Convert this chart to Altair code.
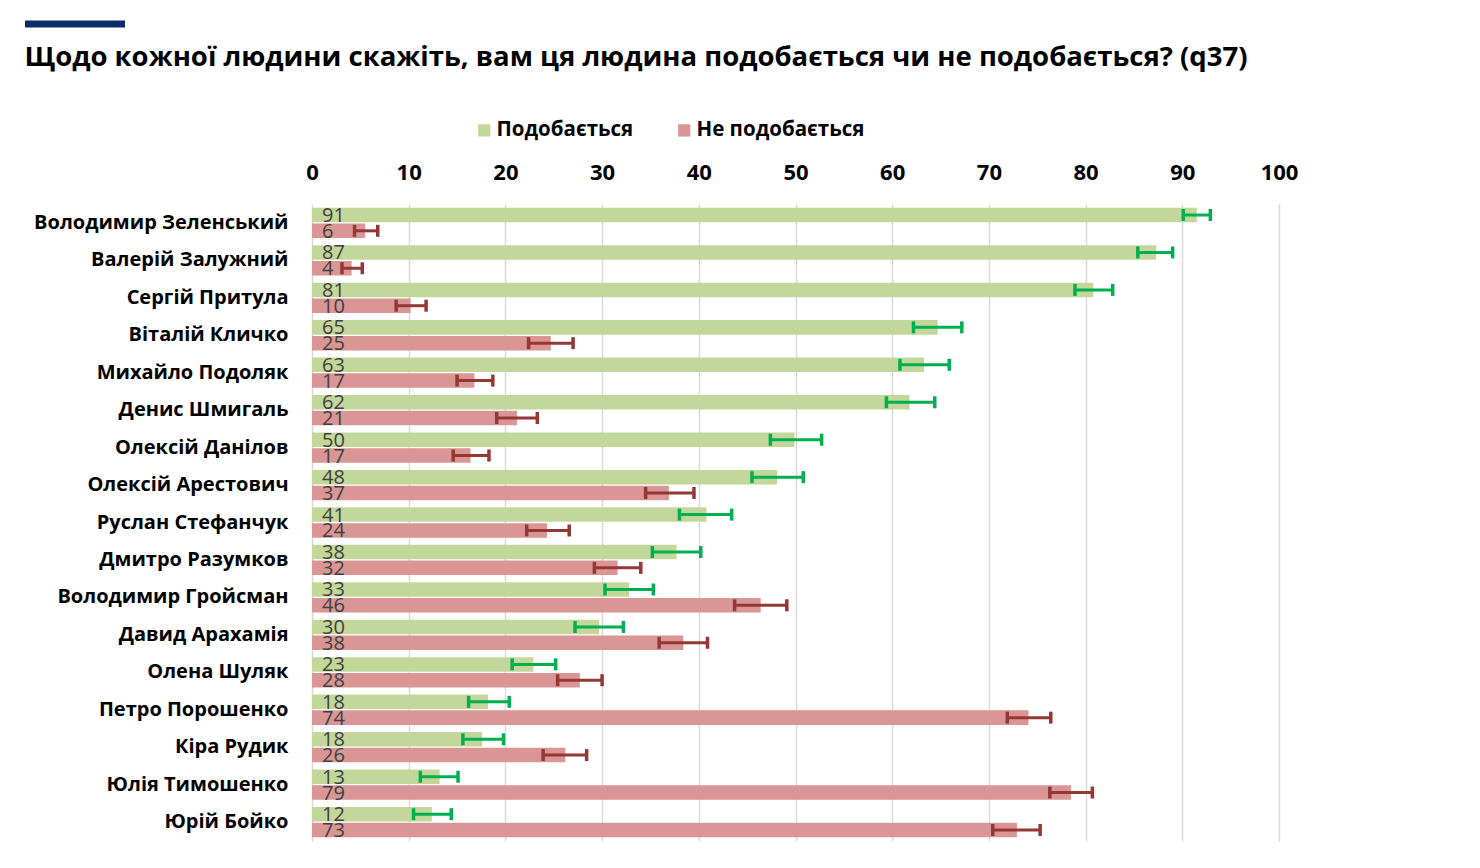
import altair as alt
import pandas as pd

names = ["Володимир Зеленський", "Валерій Залужний", "Сергій Притула", "Віталій Кличко",
         "Михайло Подоляк", "Денис Шмигаль", "Олексій Данілов", "Олексій Арестович",
         "Руслан Стефанчук", "Дмитро Разумков", "Володимир Гройсман", "Давид Арахамія",
         "Олена Шуляк", "Петро Порошенко", "Кіра Рудик", "Юлія Тимошенко", "Юрій Бойко"]

like = [91.5, 87.3, 80.8, 64.7, 63.3, 61.8, 49.9, 48.1, 40.8, 37.7, 32.8, 29.7, 22.9, 18.2, 17.6, 13.2, 12.4]
like_lo = [90.1, 85.4, 78.9, 62.2, 60.8, 59.4, 47.4, 45.5, 38.0, 35.2, 30.3, 27.2, 20.7, 16.2, 15.6, 11.2, 10.5]
like_hi = [92.9, 89.0, 82.8, 67.2, 65.9, 64.4, 52.7, 50.8, 43.4, 40.2, 35.3, 32.2, 25.2, 20.4, 19.8, 15.1, 14.4]
like_lbl = [91, 87, 81, 65, 63, 62, 50, 48, 41, 38, 33, 30, 23, 18, 18, 13, 12]

dislike = [5.5, 4.1, 10.2, 24.7, 16.8, 21.2, 16.4, 36.9, 24.3, 31.6, 46.4, 38.4, 27.7, 74.1, 26.2, 78.5, 72.9]
dislike_lo = [4.4, 3.1, 8.7, 22.4, 15.0, 19.1, 14.6, 34.5, 22.2, 29.2, 43.7, 35.9, 25.4, 71.9, 23.9, 76.3, 70.4]
dislike_hi = [6.8, 5.2, 11.8, 27.0, 18.7, 23.3, 18.3, 39.5, 26.6, 34.0, 49.1, 40.9, 30.0, 76.4, 28.4, 80.7, 75.3]
dislike_lbl = [6, 4, 10, 25, 17, 21, 17, 37, 24, 32, 46, 38, 28, 74, 26, 79, 73]

series = ["Подобається", "Не подобається"]
bar_colors = ["#c4d79b", "#da9694"]
err_colors = ["#00b050", "#953735"]
title_text = "Щодо кожної людини скажіть, вам ця людина подобається чи не подобається? (q37)"
x_ticks = [0, 10, 20, 30, 40, 50, 60, 70, 80, 90, 100]

rows = []
for i, n in enumerate(names):
    rows.append({"name": n, "series": series[0], "value": like[i], "lo": like_lo[i],
                 "hi": like_hi[i], "label": like_lbl[i]})
    rows.append({"name": n, "series": series[1], "value": dislike[i], "lo": dislike_lo[i],
                 "hi": dislike_hi[i], "label": dislike_lbl[i]})
df = pd.DataFrame(rows)

FONT = "Open Sans"

y_enc = alt.Y("name:N", sort=names,
              scale=alt.Scale(paddingInner=0.19, paddingOuter=0.1),
              axis=alt.Axis(title=None, ticks=False, domain=False, grid=False,
                            labelFont=FONT, labelFontSize=20, labelFontWeight="bold",
                            labelColor="#000000", labelPadding=24, labelLimit=400))
yoff = alt.YOffset("series:N", sort=series, scale=alt.Scale(paddingInner=0.08))

base = alt.Chart(df)

bars = base.mark_bar(opacity=1).encode(
    x=alt.X("value:Q", scale=alt.Scale(domain=[0, 100], nice=False),
            axis=alt.Axis(orient="top", title=None, values=x_ticks, ticks=False, domain=False,
                          grid=True, gridColor="#d9d9d9", gridWidth=1.5, labelFlush=False,
                          labelFont=FONT, labelFontSize=22, labelFontWeight="bold",
                          labelColor="#000000", labelPadding=20)),
    y=y_enc,
    yOffset=yoff,
    color=alt.Color("series:N", sort=series,
                    scale=alt.Scale(domain=series, range=bar_colors),
                    legend=alt.Legend(title=None, orient="none", legendX=162, legendY=-84,
                                      direction="horizontal", symbolType="square",
                                      symbolSize=150, symbolStrokeWidth=0,
                                      labelFont=FONT, labelFontSize=20.5, labelFontWeight="bold",
                                      labelColor="#000000", labelOffset=2, columnPadding=40,
                                      labelLimit=400, padding=0)),
)

err_color = alt.Color("series:N", sort=series, scale=alt.Scale(domain=series, range=err_colors), legend=None)

err = base.mark_rule(strokeWidth=3).encode(
    x="lo:Q", x2="hi:Q", y=y_enc, yOffset=yoff, color=err_color,
)

cap_lo = base.mark_tick(thickness=3.5, size=12, opacity=1).encode(
    x="lo:Q", y=y_enc, yOffset=yoff, color=err_color,
)
cap_hi = base.mark_tick(thickness=3.5, size=12, opacity=1).encode(
    x="hi:Q", y=y_enc, yOffset=yoff, color=err_color,
)

labels = base.mark_text(align="left", baseline="middle", dx=10, dy=1,
                        font=FONT, fontSize=20, color="#404040").encode(
    x=alt.datum(0), y=y_enc, yOffset=yoff, text="label:Q",
)

deco = alt.Chart(pd.DataFrame({"k": [0]})).mark_rule(color="#0b2c6b", strokeWidth=7).encode(
    x=alt.value(-287), x2=alt.value(-187), y=alt.value(-180),
)

chart = alt.layer(bars, err, cap_lo, cap_hi, labels, deco).resolve_scale(color="independent").properties(
    width=967, height=637,
    title=alt.TitleParams(title_text, anchor="start", frame="bounds", font=FONT, fontSize=27.5,
                          fontWeight="bold", color="#000000", offset=-51, dx=3),
    padding={"left": 13, "top": 12, "right": 5, "bottom": 5},
).configure_view(stroke=None)

chart.save("out.html", embed_options={"renderer": "svg", "actions": False})
